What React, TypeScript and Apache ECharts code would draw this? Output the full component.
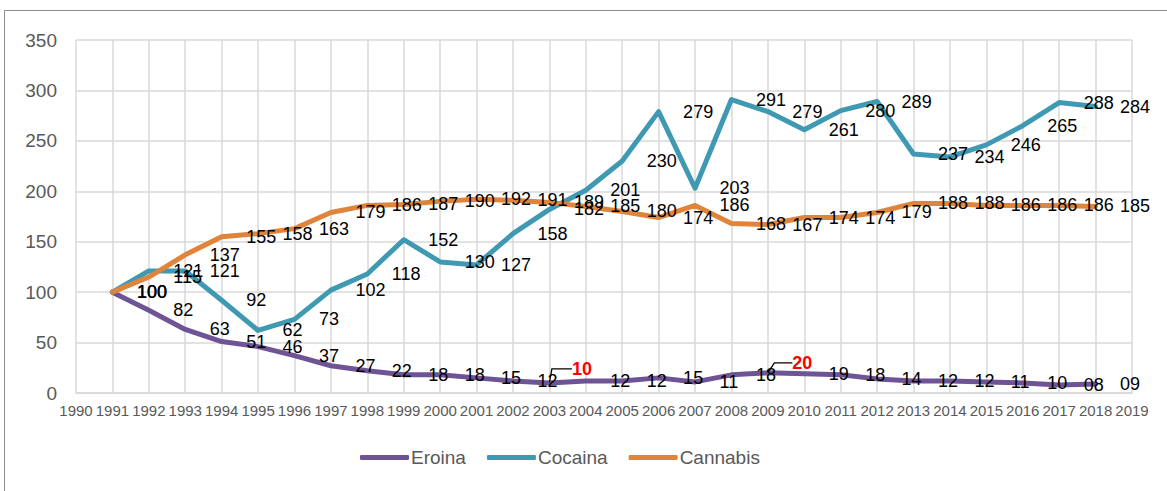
import React, { useEffect, useRef } from "react";
import * as echarts from "echarts";

const years = [
  "1990", "1991", "1992", "1993", "1994", "1995", "1996", "1997", "1998", "1999",
  "2000", "2001", "2002", "2003", "2004", "2005", "2006", "2007", "2008", "2009",
  "2010", "2011", "2012", "2013", "2014", "2015", "2016", "2017", "2018", "2019",
];

// values for 1991..2018
const eroina = [100, 82, 63, 51, 46, 37, 27, 22, 18, 18, 15, 12, 10, 12, 12, 15, 11, 18, 20, 19, 18, 14, 12, 12, 11, 10, 8, 9];
const cocaina = [100, 121, 121, 92, 62, 73, 102, 118, 152, 130, 127, 158, 182, 201, 230, 279, 203, 291, 279, 261, 280, 289, 237, 234, 246, 265, 288, 284];
const cannabis = [100, 115, 137, 155, 158, 163, 179, 186, 187, 190, 192, 191, 189, 185, 180, 174, 186, 168, 167, 174, 174, 179, 188, 188, 186, 186, 186, 185];
const firstYear = "1991";
const highlightedEroina = ["2003", "2009"];

const seriesNames = ["Eroina", "Cocaina", "Cannabis"];
const colors = ["#6E5495", "#3F99B2", "#E0843B"];

const FONT = "'Liberation Sans', Arial, sans-serif";

function App() {
  const ref = useRef<HTMLDivElement>(null);

  useEffect(() => {
    if (!ref.current) return;
    const chart = echarts.init(ref.current, null, { renderer: "svg" });
    const offset = years.indexOf(firstYear);
    const pad = (arr: number[]) => [...years.slice(0, offset).map(() => null), ...arr];

    const labelBase = {
      show: true,
      position: "right",
      distance: 24,
      fontSize: 18,
      color: "#000",
      fontFamily: FONT,
    };

    const eroinaData = pad(eroina).map((v, i) => {
      if (v === null) return null;
      const hi = highlightedEroina.indexOf(years[i]);
      if (hi >= 0) {
        return {
          value: v,
          label: { color: "#FF0000", fontWeight: "bold", fontSize: 18 },
          labelLine: {
            show: true,
            length2: hi === 0 ? 20 : 18,
            lineStyle: { color: "#000", width: 1.3 },
          },
        };
      }
      return v;
    });

    const mkSeries = (name: string, data: any[], color: string, extra: any = {}) => ({
      name,
      type: "line",
      data,
      symbol: "circle",
      symbolSize: 1,
      showSymbol: true,
      showAllSymbol: true,
      itemStyle: { color },
      lineStyle: { color, width: 5, cap: "round", join: "round" },
      label: { ...labelBase },
      emphasis: { disabled: true },
      ...extra,
    });

    const option: any = {
      animation: false,
      backgroundColor: "#fff",
      textStyle: { fontFamily: FONT },
      graphic: [
        {
          type: "rect",
          shape: { x: 4.5, y: 10.5, width: 1400, height: 700 },
          style: { fill: "none", stroke: "#8a8a8a", lineWidth: 1 },
          silent: true,
        },
      ],
      grid: { left: 76, right: 35, top: 40, bottom: 98 },
      legend: {
        data: seriesNames,
        left: 355,
        top: 443,
        icon: "roundRect",
        itemWidth: 49,
        itemHeight: 5,
        itemGap: 21,
        textStyle: { fontSize: 19, color: "#595959", fontFamily: FONT, padding: [0, 0, 0, -3] },
      },
      xAxis: {
        type: "category",
        data: years,
        boundaryGap: false,
        axisTick: { show: false },
        axisLine: { lineStyle: { color: "#d9d9d9", width: 1.5 } },
        axisLabel: { interval: 0, fontSize: 15, color: "#595959", margin: 10, fontFamily: FONT },
        splitLine: { show: true, lineStyle: { color: "#d9d9d9", width: 1.5 } },
      },
      yAxis: {
        type: "value",
        min: 0,
        max: 350,
        interval: 50,
        axisLine: { show: false },
        axisTick: { show: false },
        axisLabel: { fontSize: 19, color: "#595959", margin: 19, fontFamily: FONT },
        splitLine: { lineStyle: { color: "#d9d9d9", width: 1.5 } },
      },
      series: [
        mkSeries(seriesNames[0], eroinaData, colors[0], {
          label: {
            ...labelBase,
            formatter: (p: any) => {
              const v = typeof p.value === "number" ? p.value : p.value?.value;
              return v < 10 ? "0" + v : String(v);
            },
          },
          labelLayout: (params: any) => {
            const y = years[params.dataIndex];
            if (y === highlightedEroina[0]) return { dx: -2, dy: -14 };
            if (y === highlightedEroina[1]) return { dx: 0, dy: -10 };
            return {};
          },
        }),
        mkSeries(seriesNames[1], pad(cocaina), colors[1]),
        mkSeries(seriesNames[2], pad(cannabis), colors[2]),
      ],
    };
    chart.setOption(option);
    return () => chart.dispose();
  }, []);

  return (
    <div
      ref={ref}
      style={{ position: "fixed", left: 0, top: 0, width: 1167, height: 491, background: "#fff" }}
    />
  );
}

export default App;
